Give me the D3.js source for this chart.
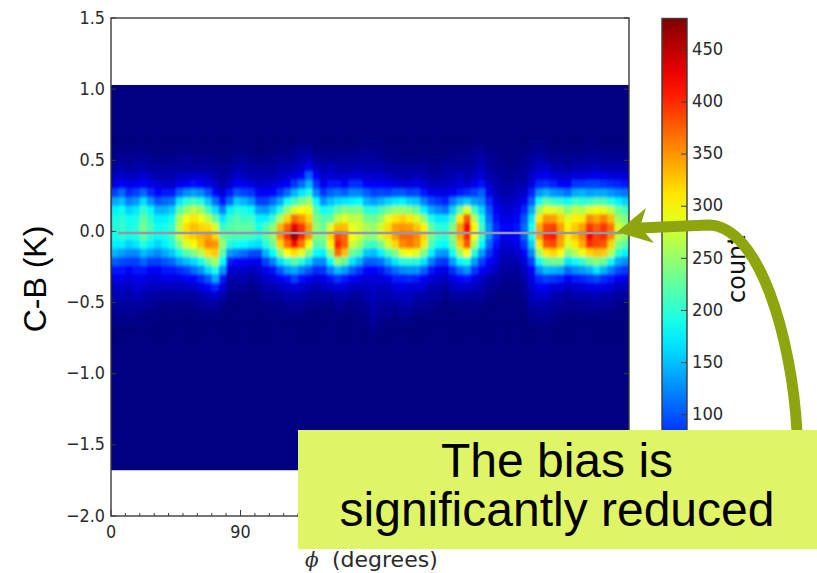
<!DOCTYPE html>
<html>
<head>
<meta charset="utf-8">
<script src="https://cdn.jsdelivr.net/npm/d3@7"></script>
<style>
html,body{margin:0;padding:0;background:#fff;}
svg{display:block;}
</style>
</head>
<body>
<svg id="chart" width="817" height="573"></svg>
<script>
// Longitude bin edges start at these values (degrees), each bin 5 degrees wide.
const phiBins = d3.range(0, 360, 5);
// Centres of the C-B bins (K), top to bottom, each bin 0.06 K tall.
const cbBins = [0.63,0.57,0.51,0.45,0.39,0.33,0.27,0.21,0.15,0.09,0.03,-0.03,-0.09,-0.15,-0.21,-0.27,-0.33,-0.39,-0.45,-0.51,-0.57,-0.63,-0.69];
// Counts, one row per phi bin.
const counts = [
[0,3,5,15,30,45,90,140,175,190,195,190,175,145,105,70,48,30,22,15,8,3,0],
[0,5,12,22,36,60,110,150,185,200,205,200,175,135,95,70,52,36,28,15,8,3,0],
[0,3,8,15,30,48,80,120,160,185,190,190,160,125,90,58,40,30,22,15,10,5,0],
[0,3,12,22,30,52,90,132,170,190,200,195,170,125,90,70,52,40,30,15,8,3,0],
[0,5,12,22,38,60,108,165,205,225,235,225,195,148,108,70,48,36,22,15,5,3,0],
[0,3,8,15,30,48,80,128,178,200,210,200,175,135,90,58,42,30,22,12,5,0,0],
[0,0,5,15,22,42,62,100,145,175,185,185,160,125,90,58,42,30,15,8,3,0,0],
[0,0,5,15,22,36,70,110,145,175,190,190,175,140,100,70,48,30,15,5,0,0,0],
[0,0,8,15,22,36,70,115,160,190,205,210,195,155,110,70,48,30,15,8,3,0,0],
[0,3,8,15,30,52,105,170,220,260,270,270,240,190,135,80,48,30,15,5,0,0,0],
[0,3,12,15,30,58,125,200,250,295,315,315,285,220,150,90,58,30,15,5,3,0,0],
[0,3,8,15,36,68,135,210,270,310,330,325,300,240,165,110,58,36,15,8,0,0,0],
[0,0,8,15,36,62,125,195,255,295,320,335,325,265,190,130,78,48,22,12,5,0,0],
[0,0,8,15,30,48,100,155,210,270,315,345,355,315,230,165,100,58,30,15,5,0,0],
[0,0,5,12,22,36,62,110,165,225,280,320,350,325,260,195,140,75,36,15,5,0,0],
[0,0,3,8,15,22,42,70,120,170,205,230,250,225,180,130,70,42,22,8,0,0,0],
[0,0,5,15,22,36,70,110,175,205,220,220,195,135,70,42,22,15,5,0,0,0,0],
[0,3,12,22,36,58,100,155,195,220,225,215,185,120,62,36,22,12,5,0,0,0,0],
[0,3,12,22,30,52,90,145,190,205,225,215,180,110,58,36,22,12,5,0,0,0,0],
[0,0,8,15,22,48,85,128,178,210,225,210,170,95,52,30,15,5,0,0,0,0,0],
[0,0,5,15,22,36,58,90,135,175,190,195,165,95,52,36,22,12,5,0,0,0,0],
[0,0,5,15,22,36,58,90,130,175,215,220,195,145,90,52,36,22,12,5,0,0,0],
[0,0,8,15,22,42,62,110,155,205,245,250,230,180,120,68,42,22,12,5,0,0,0],
[0,3,12,22,30,52,85,140,195,260,335,350,320,245,165,100,58,30,15,5,3,0,0],
[0,5,12,22,36,62,110,185,250,320,375,400,370,300,200,130,68,36,22,12,5,0,0],
[0,8,15,25,48,85,145,210,285,370,430,470,420,315,220,140,90,42,22,12,5,0,0],
[5,15,22,36,58,110,170,235,300,350,395,405,365,285,200,120,68,36,22,12,5,0,0],
[3,15,30,55,105,145,195,255,295,320,345,350,300,240,165,100,52,30,15,5,0,0,0],
[0,5,15,30,58,85,125,180,220,240,250,245,220,180,125,80,42,22,12,5,0,0,0],
[0,3,12,22,36,52,85,130,185,220,230,240,225,175,125,85,48,30,15,5,0,0,0],
[0,5,12,30,42,70,105,150,195,225,285,320,305,250,180,120,68,36,15,5,0,0,0],
[0,3,12,22,36,70,115,165,225,270,330,385,405,370,250,150,85,42,22,12,5,0,0],
[0,3,12,22,36,58,105,170,240,290,330,370,375,330,225,135,70,42,22,8,3,0,0],
[0,5,15,22,42,80,125,175,235,270,290,300,275,230,170,105,58,30,15,5,3,0,0],
[3,8,15,25,42,80,120,180,240,270,280,280,255,210,145,85,48,30,15,8,5,0,0],
[3,8,15,22,36,62,105,145,200,235,260,250,215,155,105,62,42,30,22,12,8,3,0],
[3,8,15,22,36,58,90,135,195,230,250,245,205,150,105,62,42,36,30,25,20,15,8],
[3,5,12,22,36,58,95,145,215,250,280,280,235,175,115,70,42,30,22,15,10,5,0],
[0,3,8,15,30,52,90,160,235,290,315,315,280,215,145,90,52,30,22,15,10,3,0],
[0,3,5,15,22,48,100,170,250,310,345,345,320,240,170,110,72,42,30,15,5,0,0],
[0,0,5,15,22,42,100,175,250,320,350,370,355,285,200,125,72,48,30,22,12,3,0],
[0,0,5,15,22,42,90,160,245,310,345,370,365,300,200,130,78,42,30,22,12,3,0],
[0,0,5,15,30,48,95,155,225,285,325,355,350,285,200,130,70,42,22,12,5,0,0],
[0,3,5,15,22,42,70,120,175,250,305,320,310,240,170,105,58,36,22,12,5,0,0],
[0,0,3,8,15,30,52,95,140,190,225,235,215,175,120,70,42,22,15,8,3,0,0],
[0,0,3,8,15,30,48,85,125,170,200,210,185,135,90,52,36,22,15,8,0,0,0],
[0,0,5,15,22,30,48,75,115,170,195,200,180,130,85,48,30,15,5,0,0,0,0],
[0,3,8,15,22,36,58,115,160,210,240,245,225,185,135,80,48,30,15,5,0,0,0],
[0,3,8,15,30,42,70,140,230,310,345,340,320,255,180,110,62,36,15,5,0,0,0],
[0,3,8,15,22,36,80,155,285,380,420,400,380,300,195,130,68,36,15,5,0,0,0],
[3,8,15,22,30,52,90,135,210,265,305,295,260,195,135,85,48,30,15,8,3,0,0],
[3,12,22,30,42,68,105,125,160,190,210,210,180,135,90,58,36,22,15,5,0,0,0],
[0,5,12,15,22,36,52,80,100,115,130,130,110,85,62,42,22,15,5,0,0,0,0],
[0,3,5,8,15,22,30,42,55,68,80,80,68,50,42,30,15,8,3,0,0,0,0],
[0,3,5,8,12,15,22,30,40,48,60,55,40,30,22,15,8,3,0,0,0,0,0],
[0,0,3,5,8,15,22,30,40,48,60,55,42,30,22,15,8,3,0,0,0,0,0],
[0,3,5,8,15,22,30,40,50,62,70,62,50,36,22,15,8,5,3,0,0,0,0],
[0,3,8,12,15,22,36,52,78,100,110,105,85,62,42,30,22,15,8,3,0,0,0],
[3,8,15,22,36,48,75,105,140,170,190,190,160,125,90,62,48,36,30,22,12,5,0],
[5,12,22,36,48,80,130,190,255,310,340,345,310,255,185,125,80,55,36,22,12,5,0],
[3,8,15,36,52,85,145,225,290,350,385,405,380,310,225,150,90,55,36,22,15,8,3],
[0,3,8,22,42,75,130,205,285,345,390,410,385,320,235,145,85,42,22,15,8,3,0],
[0,3,12,22,36,62,125,200,275,320,345,350,340,300,230,140,75,42,22,12,5,0,0],
[0,3,8,15,36,58,115,185,245,285,305,310,285,240,170,110,58,30,15,8,3,0,0],
[0,3,12,22,48,85,140,210,270,305,325,330,310,265,185,125,70,36,22,8,3,0,0],
[0,3,12,22,42,85,145,200,265,310,345,355,340,290,205,135,75,42,22,12,5,0,0],
[3,8,15,22,48,90,135,205,285,355,395,425,400,320,230,145,85,48,22,12,5,0,0],
[3,8,15,30,52,90,140,220,295,340,375,390,385,330,245,170,95,48,30,15,5,0,0],
[0,5,12,22,48,85,140,215,290,360,395,400,380,325,230,145,80,48,22,12,5,0,0],
[0,5,12,22,42,80,130,195,270,330,365,355,320,265,185,120,70,42,22,12,5,0,0],
[0,5,12,22,42,75,120,175,230,255,280,270,240,200,140,95,52,30,15,5,0,0,0],
[0,3,12,22,42,70,115,160,210,240,255,250,220,175,125,85,48,30,15,5,0,0,0]
];
const yTicks = [1.5,1.0,0.5,0.0,-0.5,-1.0,-1.5,-2.0];
const xMajor = [0,90,180,270,360];
const xLabels = [0,90];
const xMinor = d3.range(0,361,10);
const cbarTicks = [100,150,200,250,300,350,400,450];
const histExtent = {phi:[0,360], cb:[-1.68,1.03]};
const biasLine = 0.0;
const caption = ["The bias is","significantly reduced"];

const svg = d3.select("#chart");
const x = d3.scaleLinear().domain([0,360]).range([111,629]);
const y = d3.scaleLinear().domain([-2,1.5]).range([516,18]);
const cScale = d3.scaleLinear().domain([0,480]).range([519,18.5]);

// matplotlib "jet"
function jet(t){
  const c = v => Math.round(255*Math.max(0,Math.min(1,v)));
  const r = 1.5-Math.abs(4*t-3), g = 1.5-Math.abs(4*t-2), b = 1.5-Math.abs(4*t-1);
  return `rgb(${c(r)},${c(g)},${c(b)})`;
}
const color = v => jet(v/480);

const defs = svg.append("defs");
defs.append("filter").attr("id","soft").attr("x","-5%").attr("y","-5%").attr("width","110%").attr("height","110%")
  .append("feGaussianBlur").attr("stdDeviation","1 1.5");
defs.append("clipPath").attr("id","plotclip").append("rect")
  .attr("x",x(0)).attr("y",y(histExtent.cb[1])).attr("width",x(360)-x(0)).attr("height",y(histExtent.cb[0])-y(histExtent.cb[1]));

// Histogram
const hist = svg.append("g").attr("clip-path","url(#plotclip)");
hist.append("rect").attr("x",x(0)).attr("y",y(histExtent.cb[1]))
  .attr("width",x(360)-x(0)).attr("height",y(histExtent.cb[0])-y(histExtent.cb[1]))
  .attr("fill",color(0));
const cells = hist.append("g").attr("filter","url(#soft)");
phiBins.forEach((phi,i)=>{
  cells.selectAll(null).data(cbBins).join("rect")
    .attr("x",x(phi)).attr("width",x(phi+5)-x(phi)+0.5)
    .attr("y",d=>y(d+0.03)).attr("height",d=>y(d-0.03)-y(d+0.03)+0.5)
    .attr("fill",(d,j)=>color(counts[i][j]));
});
// Bias line
svg.append("line").attr("x1",x(5)).attr("x2",x(355)).attr("y1",y(biasLine)+1.6).attr("y2",y(biasLine)+1.6)
  .attr("stroke","#9696ae").attr("stroke-width",2.6);

// Frame and ticks
const ink = "#3a3a3a";
const axes = svg.append("g").attr("stroke",ink).attr("fill","none");
axes.append("rect").attr("x",x(0)).attr("y",y(1.5)).attr("width",x(360)-x(0)).attr("height",y(-2)-y(1.5))
  .attr("stroke-width",1.4);
yTicks.forEach(t=>{
  axes.append("line").attr("x1",x(0)).attr("x2",x(0)+5).attr("y1",y(t)).attr("y2",y(t));
  axes.append("line").attr("x1",x(360)).attr("x2",x(360)-5).attr("y1",y(t)).attr("y2",y(t));
});
xMinor.forEach(t=>{
  const len = xMajor.includes(t)?6:3;
  axes.append("line").attr("x1",x(t)).attr("x2",x(t)).attr("y1",y(-2)).attr("y2",y(-2)-len);
});
const tickFont = "'DejaVu Sans',sans-serif";
const stretch = (px,py)=>`translate(${px},${py}) scale(1,1.13)`;
const fmtY = t => (t<0?"\u2212":"")+Math.abs(t).toFixed(1);
svg.selectAll(".yl").data(yTicks).join("text")
  .attr("transform",d=>stretch(x(0)-6,y(d)+5.5)).attr("text-anchor","end")
  .attr("font-family",tickFont).attr("font-size",16).attr("fill","#2a2a2a").text(fmtY);
svg.selectAll(".xl").data(xLabels).join("text")
  .attr("transform",d=>stretch(x(d),y(-2)+22)).attr("text-anchor","middle")
  .attr("font-family",tickFont).attr("font-size",16).attr("fill","#2a2a2a").text(d=>d);

// Axis labels
svg.append("text").attr("transform",`translate(46,279) rotate(-90)`).attr("text-anchor","middle")
  .attr("font-family","'Liberation Sans',sans-serif").attr("font-size",32).attr("fill","#000").text("C-B (K)");
const xl = svg.append("text").attr("x",305).attr("y",567).attr("font-family",tickFont).attr("font-size",22).attr("fill","#2a2a2a");
xl.append("tspan").attr("font-style","italic").attr("font-family","'DejaVu Serif',serif").attr("font-size",20).text("\u03d5");
xl.append("tspan").attr("x",332).text("(degrees)");

// Colorbar
const cbX = 662, cbW = 25;
const grad = defs.append("linearGradient").attr("id","jetbar").attr("x1",0).attr("x2",0).attr("y1",1).attr("y2",0);
d3.range(0,1.0001,0.05).forEach(t=>grad.append("stop").attr("offset",t).attr("stop-color",jet(t)));
svg.append("rect").attr("x",cbX).attr("y",cScale(480)).attr("width",cbW).attr("height",cScale(0)-cScale(480))
  .attr("fill","url(#jetbar)").attr("stroke",ink).attr("stroke-width",1.4);
cbarTicks.forEach(t=>{
  svg.append("line").attr("x1",cbX+cbW-6).attr("x2",cbX+cbW).attr("y1",cScale(t)).attr("y2",cScale(t)).attr("stroke",ink);
});
svg.selectAll(".cl").data(cbarTicks).join("text")
  .attr("transform",d=>stretch(cbX+cbW+5,cScale(d)+5.3))
  .attr("font-family",tickFont).attr("font-size",16.4).attr("fill","#2a2a2a").text(d=>d);
svg.append("text").attr("transform",`translate(745,303) rotate(-90)`)
  .attr("font-family",tickFont).attr("font-size",24).attr("fill","#111").text("count");

// Annotation arrow
const olive = "#8ea50e";
svg.append("path").attr("d","M797 432C792 340,760 225,708 225L640 228")
  .attr("fill","none").attr("stroke",olive).attr("stroke-width",11);
svg.append("path").attr("d","M617 232L646 208L640 227L654 243Z").attr("fill",olive);

// Caption
svg.append("rect").attr("x",298).attr("y",430).attr("width",519).attr("height",119).attr("fill","#dff566");
svg.selectAll(".cap").data(caption).join("text")
  .attr("x",557).attr("y",(d,i)=>477+i*49).attr("text-anchor","middle")
  .attr("font-family","'Liberation Sans',sans-serif").attr("font-size",48).attr("fill","#000").text(d=>d);
</script>
</body>
</html>
